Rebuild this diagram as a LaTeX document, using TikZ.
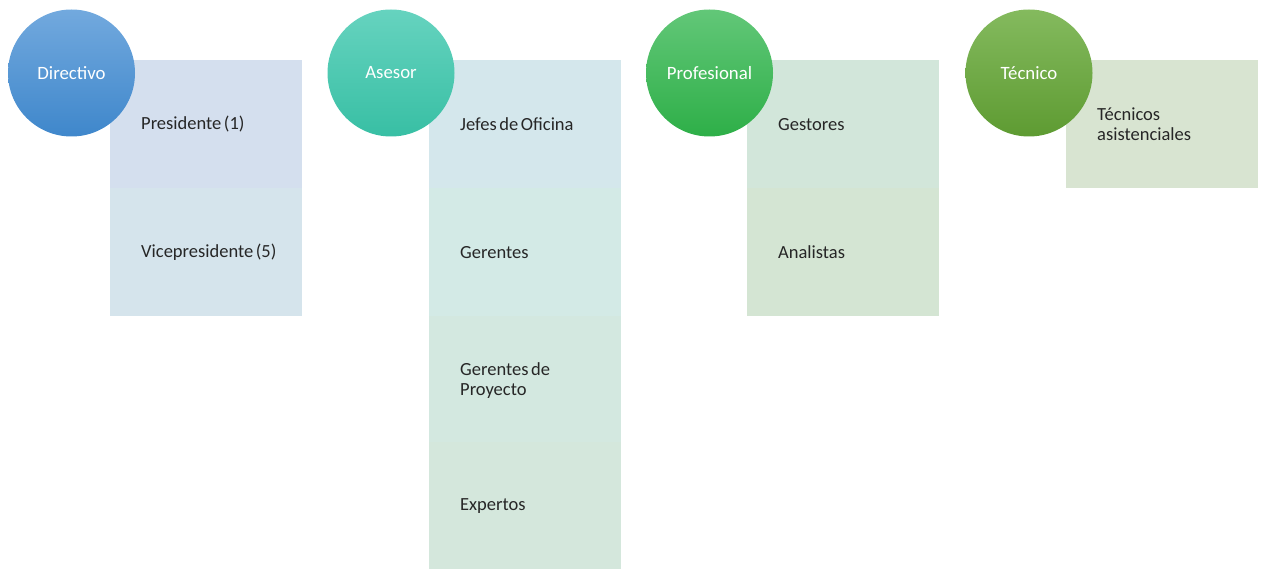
\documentclass[tikz,border=0pt]{standalone}
\usepackage{fontspec}
\setmainfont{Carlito}
\definecolor{dirA}{HTML}{72A9DE}
\definecolor{dirB}{HTML}{3F87CB}
\definecolor{aseA}{HTML}{66D3BF}
\definecolor{aseB}{HTML}{38BFA4}
\definecolor{proA}{HTML}{62C778}
\definecolor{proB}{HTML}{2EAF48}
\definecolor{tecA}{HTML}{84BA5E}
\definecolor{tecB}{HTML}{5E9B32}
\definecolor{r1}{HTML}{D4DFEE}
\definecolor{r2}{HTML}{D5E4EC}
\definecolor{r3}{HTML}{D4E7EC}
\definecolor{r4}{HTML}{D3EAE6}
\definecolor{r5}{HTML}{D3E8E0}
\definecolor{r6}{HTML}{D4E7DC}
\definecolor{r7}{HTML}{D2E6DA}
\definecolor{r8}{HTML}{D4E5D3}
\definecolor{r9}{HTML}{D8E4D1}
\definecolor{txt}{HTML}{262626}
\newcommand\lblfont{\fontsize{18.5}{20}\selectfont\spaceskip=2.6pt plus 1pt\relax}
\tikzset{
  cat/.style={circle, minimum size=127pt, inner sep=0pt, text=white,
    font=\fontsize{18.8}{22}\selectfont},
  box/.style={anchor=north west, minimum width=192pt, minimum height=128pt,
    inner sep=0pt},
  lbl/.style={anchor=west, inner sep=0pt, align=left, text=txt,
    font=\lblfont}
}
\begin{document}
\begin{tikzpicture}[x=1pt,y=-1pt]
\useasboundingbox (0,0) rectangle (1264,569);
% Directivo
\node[box, fill=r1] (pres) at (110,60) {};
\node[box, fill=r2] (vice) at (110,188) {};
% Asesor
\node[box, fill=r3] (jefes) at (429,60) {};
\node[box, fill=r4] (ger) at (429,188) {};
\node[box, fill=r5] (gerp) at (429,316) {};
\node[box, fill=r6, minimum height=127pt] (exp) at (429,442) {};
% Profesional
\node[box, fill=r7] (gest) at (747,60) {};
\node[box, fill=r8] (anal) at (747,188) {};
% Tecnico
\node[box, fill=r9] (tecs) at (1066,60) {};
% labels
\node[lbl] (tpres) at ([xshift=31pt]pres.west) {Presidente (1)};
\node[lbl] (tvice) at ([xshift=31pt]vice.west) {Vicepresidente (5)};
\node[lbl] (tjefes) at ([xshift=31pt]jefes.west) {Jefes de Oficina};
\node[lbl] (tger) at ([xshift=31pt]ger.west) {Gerentes};
\node[lbl] (tgerp) at ([xshift=31pt]gerp.west) {Gerentes de\\Proyecto};
\node[lbl] (texp) at ([xshift=31pt]exp.west) {Expertos};
\node[lbl] (tgest) at ([xshift=31pt]gest.west) {Gestores};
\node[lbl] (tanal) at ([xshift=31pt]anal.west) {Analistas};
\node[lbl] (ttecs) at ([xshift=31pt]tecs.west) {Técnicos\\asistenciales};
% circles
\node[cat, top color=dirA, bottom color=dirB] (dir) at (71.5,73) {Directivo};
\node[cat, top color=aseA, bottom color=aseB] (ase) at (391,73) {Asesor};
\node[cat, top color=proA, bottom color=proB] (pro) at (709.5,73) {Profesional};
\node[cat, top color=tecA, bottom color=tecB] (tec) at (1029,73) {Técnico};
\end{tikzpicture}
\end{document}
